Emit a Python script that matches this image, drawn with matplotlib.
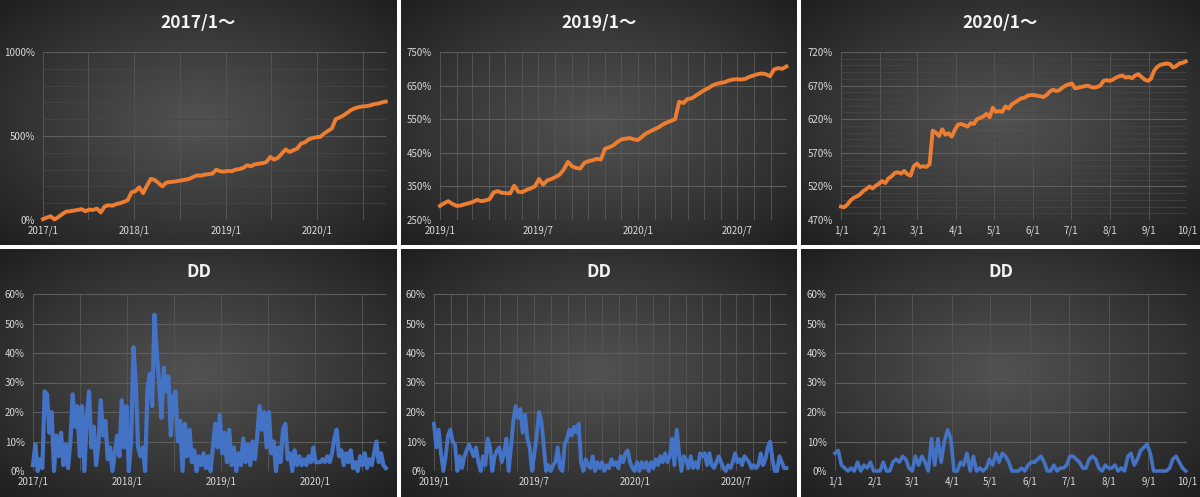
import numpy as np
import pandas as pd
import matplotlib
matplotlib.use("Agg")
import matplotlib.pyplot as plt
import matplotlib.dates as mdates
from matplotlib.ticker import FixedLocator, FuncFormatter, MultipleLocator

plt.rcParams['font.family'] = ['Noto Sans CJK JP', 'DejaVu Sans']

# equity curves (%), sampled at regular intervals from the start date to the end date
eq_2017 = [5, 15, 22, 3, 18, 35, 50, 52, 56, 60,
           65, 52, 62, 60, 68, 45, 80, 88, 85, 95,
           100, 108, 118, 165, 172, 195, 160, 205, 245, 238,
           220, 200, 222, 226, 228, 232, 236, 240, 245, 256,
           266, 264, 270, 273, 276, 300, 290, 288, 292, 290,
           300, 303, 310, 326, 320, 332, 335, 338, 345, 375,
           360, 370, 395, 420, 405, 415, 425, 455, 462, 480,
           488, 493, 495, 515, 530, 545, 600, 610, 622, 638,
           655, 665, 672, 676, 678, 682, 690, 693, 700, 705]

eq_2019 = [292, 300, 306, 298, 292, 293, 297, 300, 304, 310,
           306, 308, 312, 332, 336, 331, 330, 329, 352, 334,
           333, 340, 344, 350, 372, 355, 368, 372, 378, 385,
           400, 423, 410, 405, 403, 420, 425, 428, 432, 430,
           462, 466, 472, 482, 490, 492, 494, 490, 488, 498,
           508, 514, 520, 526, 534, 540, 545, 550, 602, 598,
           610, 612, 620, 628, 636, 642, 650, 655, 658, 660,
           665, 668, 669, 668, 670, 676, 680, 684, 686, 684,
           678, 698, 702, 700, 707]

eq_2020 = [490, 489, 493, 499, 503, 505, 508, 513, 516, 520,
           517, 521, 524, 528, 525, 532, 535, 540, 541, 539,
           543, 538, 536, 550, 554, 549, 550, 549, 553, 603,
           600, 595, 605, 597, 599, 594, 604, 612, 613, 611,
           609, 614, 613, 620, 622, 624, 628, 623, 637, 631,
           632, 631, 639, 636, 642, 645, 648, 651, 652, 655,
           656, 656, 655, 654, 653, 656, 661, 664, 662, 663,
           667, 670, 672, 673, 666, 667, 668, 669, 670, 668,
           667, 668, 670, 677, 678, 677, 679, 682, 684, 685,
           682, 683, 681, 685, 687, 683, 679, 677, 680, 692,
           698, 701, 702, 703, 702, 697, 699, 703, 704, 706]

# drawdown (%)
dd_2017 = [2, 9, 0, 4, 1, 27, 26, 13, 20, 0,
           12, 5, 13, 2, 9, 1, 10, 26, 15, 22,
           5, 22, 0, 18, 27, 8, 15, 2, 9, 24,
           12, 17, 4, 8, 0, 6, 12, 5, 24, 8,
           22, 0, 10, 42, 30, 8, 5, 8, 0, 28,
           33, 22, 53, 40, 30, 18, 35, 27, 32, 12,
           25, 27, 10, 17, 0, 16, 5, 14, 3, 7,
           0, 5, 2, 6, 1, 5, 0, 8, 16, 8,
           19, 6, 13, 3, 14, 2, 8, 0, 6, 2,
           11, 3, 9, 2, 10, 4, 12, 22, 14, 20,
           8, 20, 6, 10, 0, 8, 3, 14, 16, 4,
           6, 0, 7, 2, 5, 2, 4, 2, 5, 3,
           8, 3, 3, 3, 4, 3, 5, 3, 6, 11,
           14, 5, 7, 2, 6, 3, 7, 1, 3, 0,
           5, 2, 6, 1, 4, 2, 6, 10, 3, 6,
           2, 1]

dd_2019 = [16, 8, 14, 6, 0, 5, 12, 14, 10, 9,
           0, 5, 1, 5, 7, 9, 7, 5, 8, 3,
           0, 5, 2, 11, 8, 0, 5, 7, 8, 3,
           6, 11, 0, 8, 17, 22, 18, 21, 13, 19,
           11, 8, 0, 6, 12, 20, 17, 9, 0, 2,
           0, 2, 3, 8, 1, 0, 9, 11, 14, 12,
           15, 13, 16, 3, 0, 4, 2, 1, 5, 0,
           3, 1, 3, 0, 2, 1, 4, 2, 3, 1,
           5, 3, 6, 7, 3, 1, 0, 3, 0, 3,
           1, 3, 0, 3, 1, 4, 2, 5, 3, 6,
           3, 5, 11, 2, 14, 6, 0, 5, 4, 1,
           5, 1, 3, 1, 6, 5, 6, 2, 6, 2,
           1, 3, 5, 3, 1, 0, 2, 1, 3, 6,
           3, 4, 2, 5, 4, 3, 1, 2, 1, 2,
           6, 2, 4, 8, 10, 4, 0, 0, 5, 3,
           1, 1]

dd_2020 = [6, 7, 2, 1, 0, 1, 0, 3, 0, 2,
           1, 3, 0, 0, 0, 3, 0, 0, 3, 4,
           3, 5, 4, 1, 0, 5, 2, 5, 3, 0,
           11, 2, 11, 3, 10, 14, 11, 0, 0, 3,
           2, 6, 0, 5, 0, 1, 0, 1, 4, 2,
           6, 3, 6, 5, 3, 0, 0, 0, 1, 0,
           2, 3, 3, 4, 5, 3, 0, 0, 2, 0,
           1, 1, 2, 5, 5, 4, 3, 1, 1, 4,
           5, 4, 1, 0, 2, 1, 1, 2, 0, 1,
           0, 5, 6, 2, 4, 7, 8, 9, 6, 0,
           0, 0, 0, 0, 1, 4, 5, 3, 1, 0]

END = "2020-09-30"
AX_END = pd.Timestamp("2020-10-01")

W, H = 1200, 497
fig = plt.figure(figsize=(12, 4.97), dpi=100)
fig.patch.set_facecolor("white")


def rect(x0, y0, x1, y1):
    return [x0 / W, 1 - y1 / H, (x1 - x0) / W, (y1 - y0) / H]


# dark radial-gradient panel backgrounds
panels = [(0, 0, 397, 245), (401, 0, 797, 245), (801, 0, 1200, 245),
          (0, 249, 397, 497), (401, 249, 797, 497), (801, 249, 1200, 497)]
yy, xx = np.mgrid[-1:1:200j, -1:1:300j]
r = np.clip(np.sqrt(xx ** 2 + yy ** 2) / np.sqrt(2), 0, 1)
shade = 0.32 - (0.32 - 0.12) * r ** 1.1
bg = np.dstack([shade] * 3)
for p in panels:
    bax = fig.add_axes(rect(*p))
    bax.imshow(bg, aspect="auto", extent=[0, 1, 0, 1], interpolation="bilinear")
    bax.axis("off")

ORANGE = "#ED7D31"
BLUE = "#4472C4"


def ymd(v):
    return mdates.num2date(v)


def style(ax, start, major, minor, fmt, yticks, yminor, ylim):
    ax.set_facecolor("none")
    for s in ax.spines.values():
        s.set_visible(False)
    ax.set_xlim(pd.Timestamp(start), AX_END)
    ax.set_ylim(*ylim)
    ax.xaxis.set_major_locator(FixedLocator(mdates.date2num(pd.to_datetime(major))))
    ax.xaxis.set_minor_locator(FixedLocator(mdates.date2num(pd.to_datetime(minor))))
    ax.xaxis.set_major_formatter(FuncFormatter(fmt))
    ax.yaxis.set_major_locator(FixedLocator(yticks))
    if yminor:
        ax.yaxis.set_minor_locator(MultipleLocator(yminor))
    ax.yaxis.set_major_formatter(FuncFormatter(lambda v, _: f"{v:.0f}%"))
    ax.tick_params(which="both", length=0, colors="#d9d9d9", labelsize=7)
    ax.tick_params(axis="x", pad=4)
    ax.tick_params(axis="y", pad=6)
    ax.xaxis.grid(True, which="both", color="#545454", lw=0.7)
    ax.yaxis.grid(True, which="major", color="#5e5e5e", lw=0.8)
    ax.yaxis.grid(True, which="minor", color="#474747", lw=0.5)
    ax.set_axisbelow(True)


fmt_ym = lambda v, _: f"{ymd(v).year}/{ymd(v).month}"
fmt_md = lambda v, _: f"{ymd(v).month}/{ymd(v).day}"

years = ["2017-01-01", "2018-01-01", "2019-01-01", "2020-01-01"]
half_years = pd.date_range("2017-01-01", "2020-10-01", freq="6MS")
half_19 = ["2019-01-01", "2019-07-01", "2020-01-01", "2020-07-01"]
months_19 = pd.date_range("2019-01-01", "2020-10-01", freq="MS")
months_20 = pd.date_range("2020-01-01", "2020-10-01", freq="MS")

# top row: equity
ax1 = fig.add_axes(rect(43, 52, 386, 220))
ax1.plot(pd.date_range("2017-01-01", END, periods=len(eq_2017)), eq_2017,
         color=ORANGE, lw=2.8, clip_on=False)
style(ax1, "2017-01-01", years, half_years, fmt_ym, [0, 500, 1000], 100, (0, 1000))

ax2 = fig.add_axes(rect(440, 52, 787, 220))
ax2.plot(pd.date_range("2019-01-01", END, periods=len(eq_2019)), eq_2019,
         color=ORANGE, lw=2.8, clip_on=False)
style(ax2, "2019-01-01", half_19, months_19, fmt_ym,
      [250, 350, 450, 550, 650, 750], None, (250, 750))

ax3 = fig.add_axes(rect(841, 52, 1187, 220))
ax3.plot(pd.date_range("2020-01-01", END, periods=len(eq_2020)), eq_2020,
         color=ORANGE, lw=2.8, clip_on=False)
style(ax3, "2020-01-01", months_20, months_20, fmt_md,
      [470, 520, 570, 620, 670, 720], 10, (470, 720))

# bottom row: drawdown
dd_ticks = [0, 10, 20, 30, 40, 50, 60]
ax4 = fig.add_axes(rect(33, 294, 386, 471))
ax4.plot(pd.date_range("2017-01-01", END, periods=len(dd_2017)), dd_2017,
         color=BLUE, lw=3.0, clip_on=False)
style(ax4, "2017-01-01", years, half_years, fmt_ym, dd_ticks, None, (0, 60))

ax5 = fig.add_axes(rect(434, 294, 787, 471))
ax5.plot(pd.date_range("2019-01-01", END, periods=len(dd_2019)), dd_2019,
         color=BLUE, lw=2.8, clip_on=False)
style(ax5, "2019-01-01", half_19, months_19, fmt_ym, dd_ticks, None, (0, 60))

ax6 = fig.add_axes(rect(835, 294, 1187, 471))
ax6.plot(pd.date_range("2020-01-01", END, periods=len(dd_2020)), dd_2020,
         color=BLUE, lw=2.6, clip_on=False)
style(ax6, "2020-01-01", months_20, months_20, fmt_md, dd_ticks, None, (0, 60))

# titles
titles = ["2017/1～", "2019/1～", "2020/1～", "DD", "DD", "DD"]
for (x0, y0, x1, y1), t in zip(panels, titles):
    fig.text((x0 + x1) / 2 / W, 1 - (y0 + 23) / H, t, ha="center", va="center",
             color="#f2f2f2", fontsize=12.5, fontweight="bold")

fig.savefig("out.png", dpi=100, facecolor="white")
